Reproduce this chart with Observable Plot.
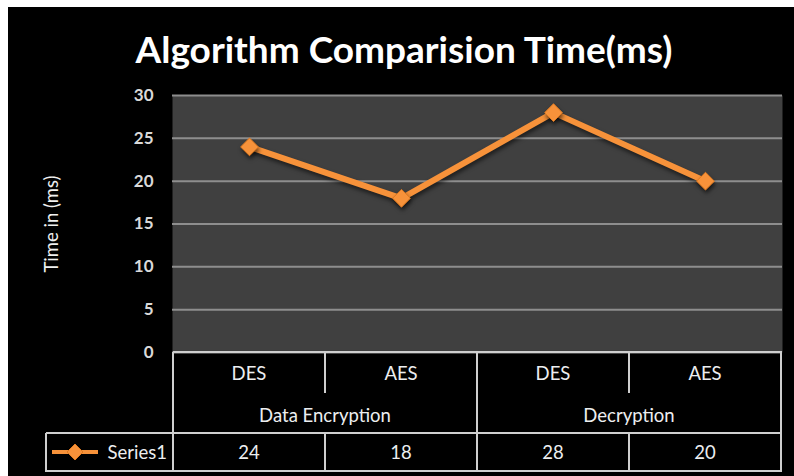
<!DOCTYPE html>
<html><head><meta charset="utf-8">
<script src="https://cdn.jsdelivr.net/npm/d3@7"></script>
<script src="https://cdn.jsdelivr.net/npm/@observablehq/plot@0.6"></script>
<style>
html,body{margin:0;padding:0;background:#fff;}
#wrap{position:absolute;left:8px;top:7px;width:786px;height:469px;background:#000;overflow:hidden;font-family:Lato,"Open Sans",sans-serif;}
#title{position:absolute;left:0;top:20px;width:792px;text-align:center;color:#fff;font-weight:bold;font-size:37px;line-height:44px;white-space:nowrap;}
#chart{position:absolute;left:0;top:73px;}
.tl{position:absolute;background:#cfcfcf;}
.tt{position:absolute;color:#eceef0;font-size:18.5px;transform:translate(-50%,-50%);white-space:nowrap;}
#chart g[aria-label="line"] path{filter:drop-shadow(1px 3px 2px rgba(0,0,0,0.55));}
#chart g[aria-label="dot"] path{filter:drop-shadow(1px 3px 2px rgba(0,0,0,0.6));}
</style></head>
<body><div id="wrap"><div id="title"></div><div id="chart"></div></div>
<script>
const title = "Algorithm Comparision Time(ms)";
const groups = ["Data Encryption","Data Encryption","Decryption","Decryption"];
const algorithms = ["DES","AES","DES","AES"];
const values = [24,18,28,20];
const seriesName = "Series1";
const yTicks = [0,5,10,15,20,25,30];
const yLabel = "Time in (ms)";

document.getElementById("title").textContent = title;

const keys = algorithms.map((a,i) => groups[i] + " / " + a + " #" + i);
const data = keys.map((k,i) => ({key:k, group:groups[i], algo:algorithms[i], value:values[i]}));

const orange = "#f7923a";

const chart = Plot.plot({
  width: 786, height: 286,
  marginTop: 15, marginBottom: 14, marginLeft: 164, marginRight: 12,
  style: {background: "transparent", fontFamily: "Lato, 'Open Sans', sans-serif", color: "#d9d9d9"},
  x: {type: "point", domain: keys, padding: 0.5, axis: null},
  y: {domain: [0, 30], ticks: yTicks},
  marks: [
    Plot.frame({fill: "#404040", stroke: "none"}),
    Plot.gridY(yTicks, {stroke: "#8e8e8e", strokeOpacity: 1, strokeWidth: 2}),
    Plot.axisY(yTicks, {tickSize: 0, tickPadding: 19, fontSize: 17, fontWeight: "bold", fill: "#d9d9d9",
      label: yLabel, labelAnchor: "center", labelOffset: 128, labelArrow: "none", line: true, stroke: "#9a9a9a"}),
    Plot.line(data, {x: "key", y: "value", stroke: orange, strokeWidth: 6}),
    Plot.dot(data, {x: "key", y: "value", symbol: "diamond2", r: 8, fill: orange, stroke: "#e07a20", strokeWidth: 1})
  ]
});
document.getElementById("chart").appendChild(chart);

// style the y-axis label (regular weight, white)
chart.querySelectorAll('g[aria-label="y-axis label"] text').forEach(t => {
  t.setAttribute("font-weight", "normal"); t.setAttribute("font-size", "18.5"); t.setAttribute("fill", "#f0f0f0");
});

// data table below the plot, aligned with the x scale
const xs = chart.scale("x"), ys = chart.scale("y");
const chartTop = 73;
const pos = keys.map(k => xs.apply(k));
const step = pos[1] - pos[0];
const left = pos[0] - step/2, right = pos[pos.length-1] + step/2;
const edges = pos.map(p => p - step/2).concat([right]);
const y0 = chartTop + ys.apply(0);          // table top (bottom of plot)
const r1 = y0 + 41, r2 = y0 + 81, r3 = y0 + 119;
const legendLeft = 38;
const wrap = document.getElementById("wrap");
function hline(x1, x2, y) { const d = document.createElement("div"); d.className = "tl";
  Object.assign(d.style, {left: x1 + "px", top: (y - 1) + "px", width: (x2 - x1 + 1) + "px", height: "2px"}); wrap.appendChild(d); }
function vline(x, y1, y2) { const d = document.createElement("div"); d.className = "tl";
  Object.assign(d.style, {left: (x - 1) + "px", top: y1 + "px", width: "2px", height: (y2 - y1) + "px"}); wrap.appendChild(d); }
function text(s, x, y, extra) { const d = document.createElement("div"); d.className = "tt"; d.textContent = s;
  Object.assign(d.style, {left: x + "px", top: y + "px"}, extra || {}); wrap.appendChild(d); return d; }

hline(left, right, y0);
hline(legendLeft, right, r2);
hline(legendLeft, right, r3);
vline(legendLeft, r2, r3 + 1);
edges.forEach((e, i) => {
  const groupEdge = i === 0 || i === edges.length - 1 || groups[i] !== groups[i - 1];
  if (groupEdge) vline(e, y0, r3 + 1);
  else { vline(e, y0, r1); vline(e, r2, r3 + 1); }
});
// category labels
pos.forEach((p, i) => text(algorithms[i], p, (y0 + r1) / 2));
// group labels
const uniq = [...new Set(groups)];
uniq.forEach(g => {
  const idx = groups.map((v, i) => v === g ? i : -1).filter(i => i >= 0);
  const cx = (pos[idx[0]] + pos[idx[idx.length - 1]]) / 2;
  text(g, cx, (r1 + r2) / 2 + 2);
});
// values
pos.forEach((p, i) => text(String(values[i]), p, (r2 + r3) / 2));
// series legend
text(seriesName, left - 6, (r2 + r3) / 2, {transform: "translate(-100%,-50%)"});
const ns = "http://www.w3.org/2000/svg";
const sw = document.createElementNS(ns, "svg");
sw.setAttribute("width", 50); sw.setAttribute("height", 20);
Object.assign(sw.style, {position: "absolute", left: (legendLeft + 5) + "px", top: ((r2 + r3) / 2 - 10) + "px"});
const ln = document.createElementNS(ns, "line");
ln.setAttribute("x1", 1); ln.setAttribute("x2", 47); ln.setAttribute("y1", 10); ln.setAttribute("y2", 10);
ln.setAttribute("stroke", orange); ln.setAttribute("stroke-width", 4);
sw.appendChild(ln);
const dm = document.createElementNS(ns, "path");
dm.setAttribute("d", "M24,2L32,10L24,18L16,10Z"); dm.setAttribute("fill", orange); dm.setAttribute("stroke", "#e07a20");
sw.appendChild(dm);
wrap.appendChild(sw);
</script>
</body></html>
